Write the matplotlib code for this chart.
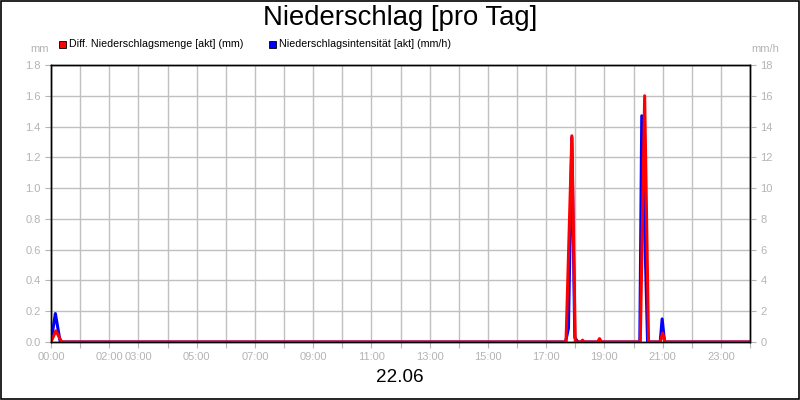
import matplotlib.pyplot as plt
import matplotlib.patches as patches
import numpy as np

plt.rcParams['font.family'] = ['Liberation Sans', 'DejaVu Sans']

# Diff. Niederschlagsmenge [akt] (mm) - Stützpunkte (Uhrzeit, Wert)
menge_zeit = ["00:00", "00:10", "00:22", "17:41", "17:53", "18:00", "18:12", "18:15", "18:18",
              "18:46", "18:50", "18:54", "20:14", "20:23", "20:31", "20:55", "21:00", "21:05", "24:00"]
menge_mm = [0.0, 0.073, 0.0, 0.0, 1.34, 0.0, 0.0, 0.012, 0.0,
            0.0, 0.022, 0.0, 0.0, 1.60, 0.0, 0.0, 0.058, 0.0, 0.0]

# Niederschlagsintensität [akt] (mm/h)
intens_zeit = ["00:00", "00:09", "00:19", "17:40", "17:46", "17:53", "17:59", "18:03", "18:06",
               "20:13", "20:17", "20:29", "20:55", "20:59", "21:04", "24:00"]
intens_mmh = [0.0, 1.85, 0.0, 0.0, 0.9, 13.3, 0.3, 0.1, 0.0,
              0.0, 14.7, 0.0, 0.0, 1.5, 0.0, 0.0]

x_labels = ["00:00", "02:00", "03:00", "05:00", "07:00", "09:00", "11:00",
            "13:00", "15:00", "17:00", "19:00", "21:00", "23:00"]


def to_hours(s):
    h, m = s.split(":")
    return int(h) + int(m) / 60


grau = "#b4b4b4"
fig = plt.figure(figsize=(8, 4), dpi=100)
ax = fig.add_axes([51 / 800, 1 - 342 / 400, 699 / 800, 277 / 400])

t_m = [to_hours(s) for s in menge_zeit]
t_i = [to_hours(s) for s in intens_zeit]

# rechte Achse ist genau 10x der linken
ax.plot(t_i, np.array(intens_mmh) / 10, color="#0000ff", lw=2.2, zorder=3)
ax.plot(t_m, menge_mm, color="#ff0000", lw=2.2, zorder=4)

ax.set_xlim(0, 24)
ax.set_ylim(0, 1.8)
ax.set_xticks(range(0, 25))
ax.set_xticklabels([lbl if lbl in x_labels else "" for lbl in
                    ["%02d:00" % h for h in range(0, 25)]])
ax.set_yticks(np.arange(0, 1.81, 0.2))
ax.set_yticklabels(["%.1f" % v for v in np.arange(0, 1.81, 0.2)])
ax.grid(True, color="#c0c0c0", lw=1)
ax.set_axisbelow(True)
ax.tick_params(colors=grau, labelsize=8, length=4, labelcolor=grau)

ax2 = ax.twinx()
ax2.set_ylim(0, 18)
ax2.set_yticks(range(0, 19, 2))
ax2.tick_params(colors=grau, labelsize=8, length=4, labelcolor=grau)

for a in (ax, ax2):
    for sp in a.spines.values():
        sp.set_color("black")
        sp.set_linewidth(1)

fig.text(0.5, 1 - 18 / 400, "Niederschlag [pro Tag]", ha="center", va="center", fontsize=19.8)
fig.text(0.5, 1 - 378 / 400, "22.06", ha="center", va="center", fontsize=13.6)
fig.text(40 / 800, 1 - 49 / 400, "mm", ha="center", va="center", fontsize=8, color=grau)
fig.text(765 / 800, 1 - 49 / 400, "mm/h", ha="center", va="center", fontsize=8, color=grau)

# Legende
fig.patches.append(patches.Rectangle((59 / 800, 1 - 48 / 400), 7 / 800, 7 / 400,
                                     transform=fig.transFigure, fc="#ff0000", ec="black", lw=0.6))
fig.text(69 / 800, 1 - 44 / 400, "Diff. Niederschlagsmenge [akt] (mm)", va="center", fontsize=7.7)
fig.patches.append(patches.Rectangle((269 / 800, 1 - 48 / 400), 7 / 800, 7 / 400,
                                     transform=fig.transFigure, fc="#0000ff", ec="black", lw=0.6))
fig.text(279 / 800, 1 - 44 / 400, "Niederschlagsintensität [akt] (mm/h)", va="center", fontsize=7.7)

# Rahmen
fig.patches.append(patches.Rectangle((0.0008, 0.0015), 0.998, 0.997, transform=fig.transFigure,
                                     fill=False, ec="black", lw=1.2))

fig.savefig("out.png", dpi=100)
